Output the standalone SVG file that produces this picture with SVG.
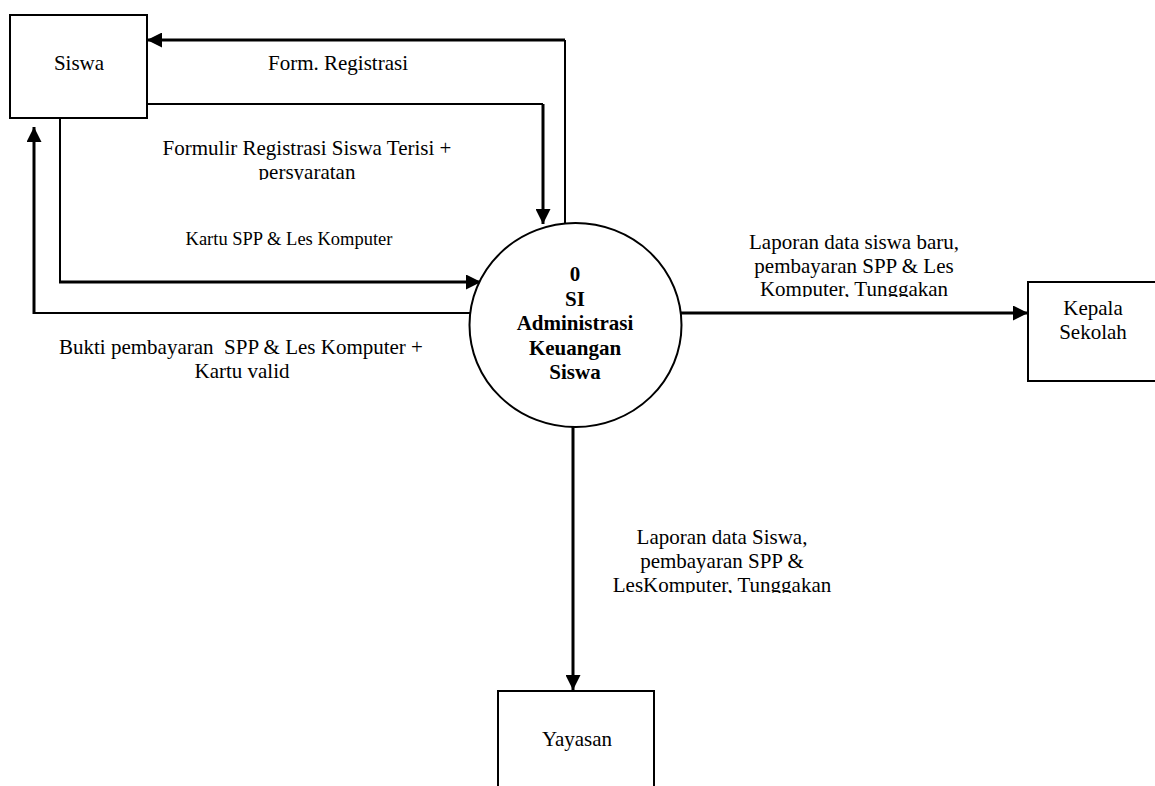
<svg xmlns="http://www.w3.org/2000/svg" width="1155" height="786" viewBox="0 0 1155 786" font-family="'Liberation Serif', serif">
<style>
text{font-family:'Liberation Serif',serif;font-size:21px;fill:#000;text-anchor:middle}
.b{font-weight:bold}
.sm{font-size:18.5px}
.box{fill:#fff;stroke:#000;stroke-width:2}
.thin{fill:none;stroke:#000;stroke-width:2}
.thick{fill:none;stroke:#000;stroke-width:3}
</style>
<defs>
<marker id="ah" markerUnits="userSpaceOnUse" markerWidth="15" markerHeight="15" refX="15" refY="7.5" orient="auto" viewBox="0 0 15 15">
<path d="M0,0 L15,7.5 L0,15 z" fill="#000"/>
</marker>
<clipPath id="c1"><rect x="0" y="0" width="1155" height="180"/></clipPath>
<clipPath id="c2"><rect x="0" y="0" width="1155" height="297"/></clipPath>
<clipPath id="c3"><rect x="0" y="0" width="1155" height="593"/></clipPath>
</defs>
<rect width="1155" height="786" fill="#fff"/>
<g id="connectors">
<polyline class="thin" points="565,223 565,40"/>
<line class="thick" x1="565" y1="40" x2="147" y2="40" marker-end="url(#ah)"/>
<polyline class="thin" points="147,104 543,104"/>
<line class="thick" x1="543" y1="104" x2="543" y2="224" marker-end="url(#ah)"/>
<line class="thin" x1="60" y1="118" x2="60" y2="282"/>
<line class="thick" x1="59" y1="282" x2="481" y2="282" marker-end="url(#ah)"/>
<line class="thin" x1="470" y1="313" x2="34" y2="313"/>
<line class="thick" x1="34" y1="314" x2="34" y2="127" marker-end="url(#ah)"/>
<line class="thick" x1="681" y1="313" x2="1028" y2="313" marker-end="url(#ah)"/>
<line class="thick" x1="573" y1="427" x2="573" y2="690" marker-end="url(#ah)"/>
<text x="338" y="70">Form. Registrasi</text>
<g clip-path="url(#c1)">
<text x="307" y="155">Formulir Registrasi Siswa Terisi +</text>
<text x="307" y="179">persyaratan</text>
</g>
<text class="sm" x="289" y="245">Kartu SPP &amp; Les Komputer</text>
<text x="241" y="354" xml:space="preserve">Bukti pembayaran  SPP &amp; Les Komputer +</text>
<text x="242" y="378">Kartu valid</text>
<g clip-path="url(#c2)">
<text x="854" y="249">Laporan data siswa baru,</text>
<text x="854" y="273">pembayaran SPP &amp; Les</text>
<text x="854" y="296">Komputer, Tunggakan</text>
</g>
<g clip-path="url(#c3)">
<text x="722" y="544">Laporan data Siswa,</text>
<text x="722" y="568">pembayaran SPP &amp;</text>
<text x="722" y="592">LesKomputer, Tunggakan</text>
</g>
</g>
<g id="siswa">
<rect class="box" x="10" y="15" width="137" height="103"/>
<text x="79" y="70">Siswa</text>
</g>
<g id="proses">
<ellipse class="box" cx="575.5" cy="325" rx="106" ry="102"/>
<text class="b" x="575" y="281">0</text>
<text class="b" x="575" y="305.5">SI</text>
<text class="b" x="575" y="330">Administrasi</text>
<text class="b" x="575" y="354.5">Keuangan</text>
<text class="b" x="575" y="379">Siswa</text>
</g>
<g id="kepala">
<rect class="box" x="1028" y="282" width="160" height="99"/>
<text x="1093" y="315">Kepala</text>
<text x="1093" y="339">Sekolah</text>
</g>
<g id="yayasan">
<rect class="box" x="498" y="691" width="156" height="130"/>
<text x="577" y="746">Yayasan</text>
</g>
</svg>
